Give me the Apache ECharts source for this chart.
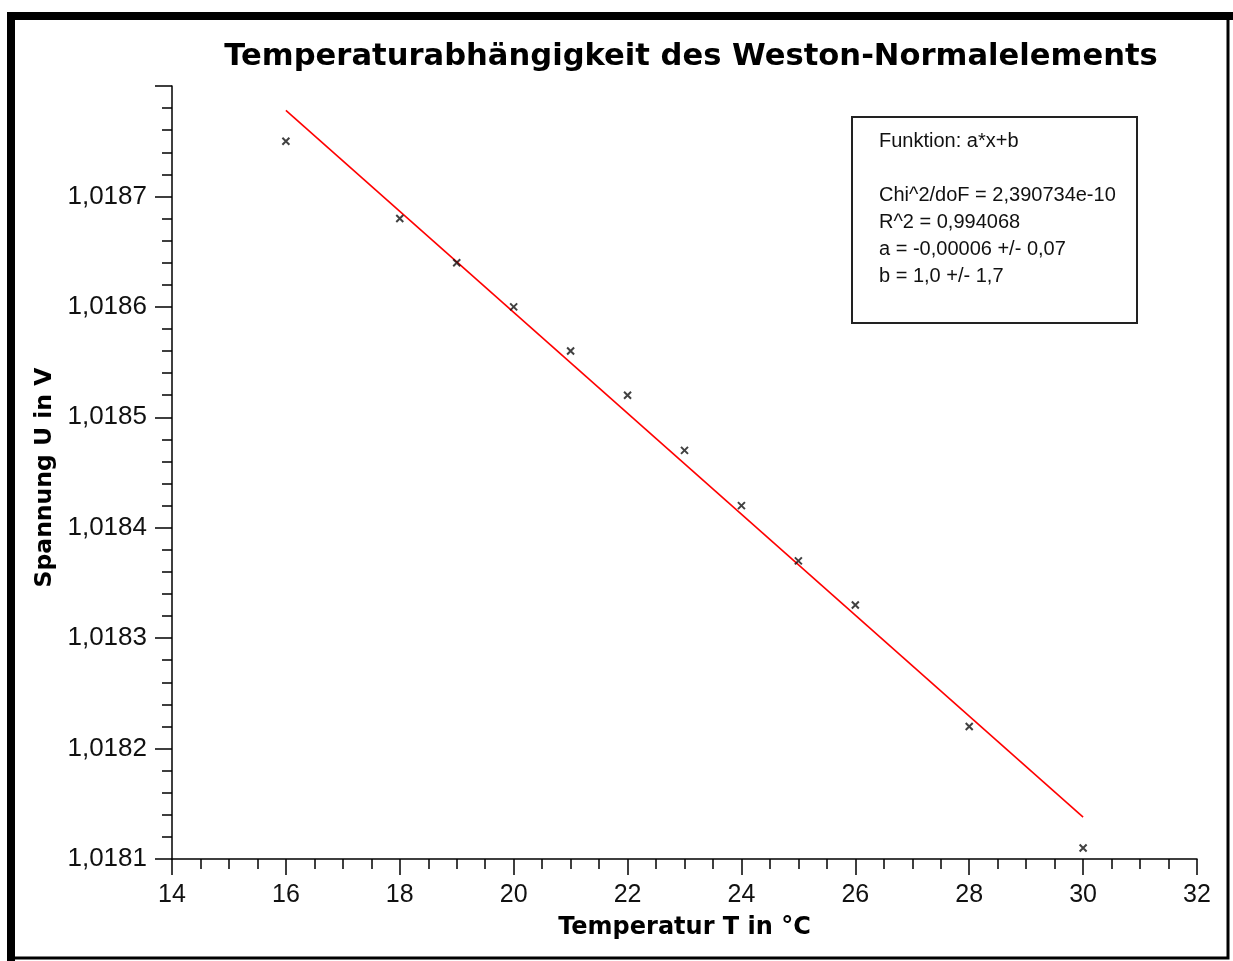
<!DOCTYPE html>
<html>
<head>
<meta charset="utf-8">
<script src="https://cdn.jsdelivr.net/npm/echarts@6/dist/echarts.min.js"></script>
<style>
  html, body { margin: 0; padding: 0; background: #fff; }
  #chart { width: 1233px; height: 961px; }
</style>
</head>
<body>
<div id="chart"></div>
<script>
// Messwerte
var temperatur = [16, 18, 19, 20, 21, 22, 23, 24, 25, 26, 28, 30];
var spannung = [1.01875, 1.01868, 1.01864, 1.01860, 1.01856, 1.01852,
                1.01847, 1.01842, 1.01837, 1.01833, 1.01822, 1.01811];
// Ausgleichsgerade (Endpunkte)
var fitT = [16, 30];
var fitU = [1.018778, 1.018138];
var fitInfo = [
  'Funktion: a*x+b',
  '',
  'Chi^2/doF = 2,390734e-10',
  'R^2 = 0,994068',
  'a = -0,00006 +/- 0,07',
  'b = 1,0 +/- 1,7'
];

var chart = echarts.init(document.getElementById('chart'));
var txt = '#111';
var labelFont = 'Liberation Sans';

var option = {
  backgroundColor: '#fff',
  animation: false,
  title: {
    text: 'Temperaturabhängigkeit des Weston-Normalelements',
    left: 686,
    textAlign: 'center',
    top: 37,
    textStyle: { fontFamily: 'DejaVu Sans', fontWeight: 'bold', fontSize: 30.6, color: '#000' }
  },
  grid: { left: 172, right: 36, top: 86, bottom: 102 },
  xAxis: {
    type: 'value',
    min: 14, max: 32, interval: 2,
    name: 'Temperatur T in °C',
    nameLocation: 'middle',
    nameGap: 57,
    nameTextStyle: { fontFamily: 'DejaVu Sans', fontWeight: 'bold', fontSize: 24, color: '#000' },
    axisLine: { lineStyle: { color: '#000', width: 1.5 } },
    axisTick: { length: 16, lineStyle: { color: '#000', width: 1.5 } },
    minorTick: { show: true, splitNumber: 4, length: 10, lineStyle: { color: '#000', width: 1.5 } },
    axisLabel: { margin: 24, fontFamily: labelFont, fontSize: 25, color: txt },
    splitLine: { show: false }
  },
  yAxis: {
    type: 'value',
    min: 1.0181, max: 1.0188, interval: 0.0001,
    name: 'Spannung U in V',
    nameLocation: 'middle',
    nameGap: 108,
    nameRotate: 90,
    nameTextStyle: { fontFamily: 'DejaVu Sans', fontWeight: 'bold', fontSize: 23.5, color: '#000', padding: [0, 10, 0, 0] },
    axisLine: { lineStyle: { color: '#000', width: 1.5 } },
    axisTick: { length: 17, lineStyle: { color: '#000', width: 1.5 } },
    minorTick: { show: true, splitNumber: 5, length: 10, lineStyle: { color: '#000', width: 1.5 } },
    axisLabel: {
      margin: 25, fontFamily: labelFont, fontSize: 26, color: txt,
      formatter: function (v) { return v > 1.01875 ? '' : v.toFixed(4).replace('.', ','); }
    },
    splitLine: { show: false }
  },
  series: [
    {
      type: 'line',
      data: fitT.map(function (t, i) { return [t, fitU[i]]; }),
      symbol: 'none',
      lineStyle: { color: '#ff0000', width: 1.6 },
      z: 2
    },
    {
      type: 'scatter',
      data: temperatur.map(function (t, i) { return [t, spannung[i]]; }),
      symbol: 'path://M0,0L10,10M10,0L0,10',
      symbolSize: 7,
      itemStyle: { color: 'none', borderColor: '#111', borderWidth: 2 },
      z: 3
    }
  ],
  graphic: [
    // Rahmen
    { type: 'rect', shape: { x: 11, y: 16, width: 1217, height: 942 },
      style: { fill: 'none', stroke: '#000', lineWidth: 3 } },
    { type: 'rect', shape: { x: 7, y: 12, width: 8, height: 949 }, style: { fill: '#000' } },
    { type: 'rect', shape: { x: 7, y: 12, width: 1226, height: 8 }, style: { fill: '#000' } },
    // Fit-Box
    { type: 'rect', shape: { x: 852, y: 117, width: 285, height: 206 },
      style: { fill: '#fff', stroke: '#222', lineWidth: 2 } },
    {
      type: 'text', left: 879, top: 128,
      style: {
        text: fitInfo.join('\n'),
        font: '20px "Liberation Sans"',
        lineHeight: 27,
        fill: '#111'
      }
    }
  ]
};
chart.setOption(option);
</script>
</body>
</html>
